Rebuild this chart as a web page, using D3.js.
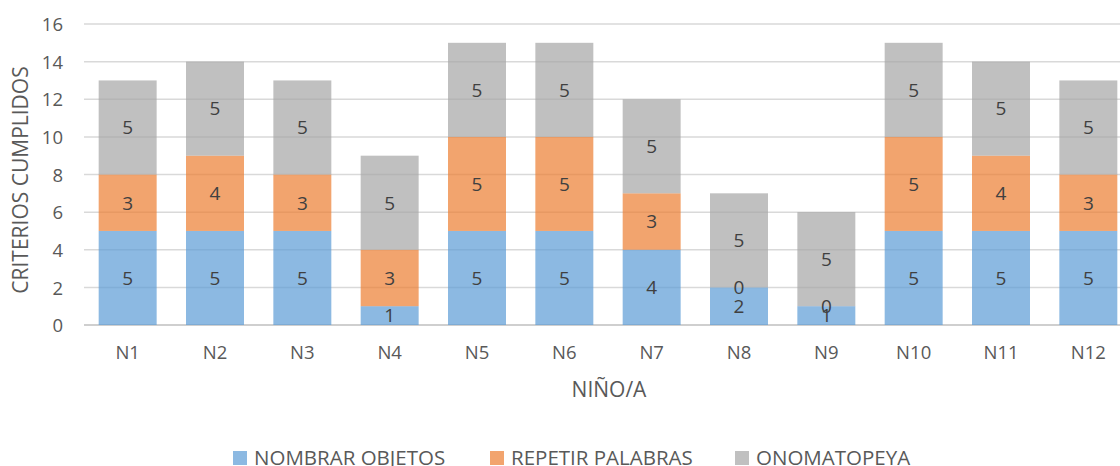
<!DOCTYPE html>
<html><head><meta charset="utf-8">
<script src="https://cdn.jsdelivr.net/npm/d3@7"></script>
<style>body{margin:0;background:#fff;overflow:hidden;} text{font-family:"Open Sans",sans-serif;fill:#595959;}</style>
</head><body><svg id="c" width="1120" height="466"></svg>
<script>
const categories = ["N1","N2","N3","N4","N5","N6","N7","N8","N9","N10","N11","N12"];
const nombrar = [5,5,5,1,5,5,4,2,1,5,5,5];
const repetir = [3,4,3,3,5,5,3,0,0,5,4,3];
const onomatopeya = [5,5,5,5,5,5,5,5,5,5,5,5];
const seriesNames = ["NOMBRAR OBJETOS","REPETIR PALABRAS","ONOMATOPEYA"];
const yTicks = [0,2,4,6,8,10,12,14,16];
const colors = ["#5B9BD5","#ED7D31","#A5A5A5"];

const svg = d3.select("#c");
const m = {l:84, r:1132, t:24, b:325};
const x = d3.scaleBand().domain(categories).range([m.l, m.r]).paddingInner(0.336).paddingOuter(0.168);
const y = d3.scaleLinear().domain([0,16]).range([m.b, m.t]);

svg.append("g").selectAll("line").data(yTicks).join("line")
  .attr("x1", m.l).attr("x2", 1120).attr("y1", d=>y(d)).attr("y2", d=>y(d))
  .attr("stroke", d=> d===0 ? "#BFBFBF" : "#D9D9D9").attr("stroke-width", 1.5);

const data = categories.map((c,i)=>({cat:c, s0:nombrar[i], s1:repetir[i], s2:onomatopeya[i]}));
const stack = d3.stack().keys(["s0","s1","s2"])(data);

stack.forEach((layer, li) => {
  svg.append("g").selectAll("rect").data(layer).join("rect")
    .attr("x", d=>x(d.data.cat)).attr("width", x.bandwidth())
    .attr("y", d=>y(d[1])).attr("height", d=>y(d[0])-y(d[1]))
    .attr("fill", colors[li]).attr("fill-opacity", 0.7);
});
stack.forEach((layer, li) => {
  svg.append("g").selectAll("text").data(layer).join("text")
    .attr("x", d=>x(d.data.cat)+x.bandwidth()/2)
    .attr("y", d=>y((d[0]+d[1])/2)).attr("dy","0.36em")
    .attr("text-anchor","middle").style("font-size","19px").style("fill","#404040")
    .text(d=>d[1]-d[0]);
});

const ya = d3.axisLeft(y).tickValues(yTicks).tickSize(0).tickPadding(0);
const yg = svg.append("g").attr("transform",`translate(63,0)`).call(ya);
yg.select(".domain").remove();
yg.selectAll("text").attr("dy","0.36em").style("font-size","18.5px").style("fill","#595959").style("font-family","'Open Sans',sans-serif");

const xa = d3.axisBottom(x).tickSize(0).tickPadding(0);
const xg = svg.append("g").attr("transform",`translate(0,352)`).call(xa);
xg.select(".domain").remove();
xg.selectAll("text").attr("dy","0.36em").style("font-size","18.5px").style("fill","#595959").style("font-family","'Open Sans',sans-serif");

svg.append("text").attr("x",609).attr("y",389).attr("dy","0.36em").attr("text-anchor","middle")
  .style("font-size","21px").text("NIÑO/A");
svg.append("text").attr("transform","translate(20,180) rotate(-90)").attr("dy","0.36em").attr("text-anchor","middle")
  .style("font-size","21px").text("CRITERIOS CUMPLIDOS");

const legX = [233, 490, 735];
const lg = svg.append("g");
seriesNames.forEach((n,i)=>{
  lg.append("rect").attr("x",legX[i]).attr("y",451).attr("width",14).attr("height",14)
    .attr("fill",colors[i]).attr("fill-opacity",0.7);
  lg.append("text").attr("x",legX[i]+21).attr("y",458).attr("dy","0.36em")
    .style("font-size","20.5px").text(n);
});
</script></body></html>
